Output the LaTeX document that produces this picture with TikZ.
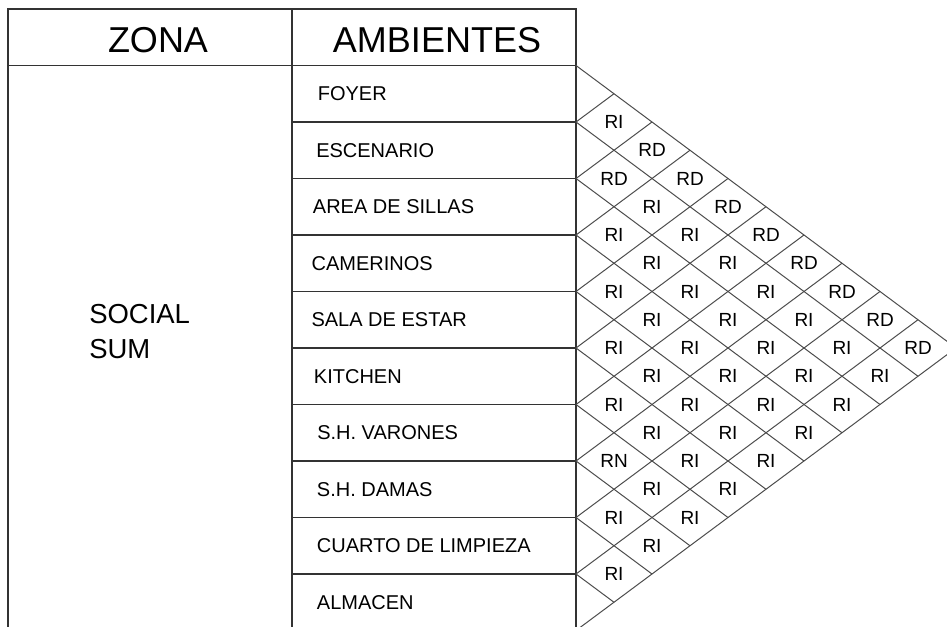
\documentclass[tikz,border=0pt]{standalone}
\usepackage{fontspec}
\setmainfont{Liberation Sans}

\begin{document}
\begin{tikzpicture}[x=0.75pt,y=-0.75pt,
		tabla/.style={draw=black!80, line width=0.9pt},
		rejilla/.style={draw=black!70, line width=0.75pt},
		titulo/.style={anchor=base, inner sep=0pt, font=\fontsize{27}{32}\selectfont},
		ambiente/.style={anchor=base west, inner sep=0pt, font=\fontsize{15}{18}\selectfont},
		relacion/.style={inner sep=0pt, font=\fontsize{14.25}{17}\selectfont}]
	\useasboundingbox (0,0) rectangle (947,627);
	\clip (0,0) rectangle (947,627);

	\draw[tabla] (8,9) rectangle (576,630.5);
	\draw[tabla] (292,9) -- (292,630.5);
	\draw[tabla] (8,65.5) -- (576,65.5);
	\foreach \k in {1,...,9}
		\draw[tabla] (292,{65.5+56.5*\k}) -- (576,{65.5+56.5*\k});

	\node[titulo] (zona) at (158,52.3) {ZONA};
	\node[titulo] (ambientes) at (437,52.3) {AMBIENTES};
	\node[anchor=west, align=left, inner sep=0pt, font=\fontsize{20.6}{26.25}\selectfont] (social) at (89,332) {SOCIAL\\SUM};

	\foreach \nombre/\x [count=\k from 0] in {FOYER/317.6, ESCENARIO/316, {AREA DE SILLAS}/312.7,
			CAMERINOS/311.3, {SALA DE ESTAR}/311.3, KITCHEN/313.7, {S.H. VARONES}/317,
			{S.H. DAMAS}/316.7, {CUARTO DE LIMPIEZA}/316.7, ALMACEN/316.7}
		\node[ambiente] (amb\k) at (\x,{65.5+56.5*(\k+0.5)+7.15}) {\nombre};

	\foreach \k in {0,...,10} {
		\coordinate (b\k) at (576,{65.5+56.5*\k});
		\draw[rejilla] (b\k) -- ++({38*(10-\k)},{28.25*(10-\k)});
		\draw[rejilla] (b\k) -- ++({38*\k},{-28.25*\k});
	}

	\foreach \i/\j/\r in {0/1/RI, 0/2/RD, 0/3/RD, 0/4/RD, 0/5/RD, 0/6/RD, 0/7/RD, 0/8/RD, 0/9/RD,
			1/2/RD, 1/3/RI, 1/4/RI, 1/5/RI, 1/6/RI, 1/7/RI, 1/8/RI, 1/9/RI,
			2/3/RI, 2/4/RI, 2/5/RI, 2/6/RI, 2/7/RI, 2/8/RI, 2/9/RI,
			3/4/RI, 3/5/RI, 3/6/RI, 3/7/RI, 3/8/RI, 3/9/RI,
			4/5/RI, 4/6/RI, 4/7/RI, 4/8/RI, 4/9/RI,
			5/6/RI, 5/7/RI, 5/8/RI, 5/9/RI,
			6/7/RN, 6/8/RI, 6/9/RI,
			7/8/RI, 7/9/RI,
			8/9/RI}
		\node[relacion] (r\i\j) at ({576+38*(\j-\i)},{65.5+28.25*(\i+\j+1)}) {\r};
\end{tikzpicture}
\end{document}
